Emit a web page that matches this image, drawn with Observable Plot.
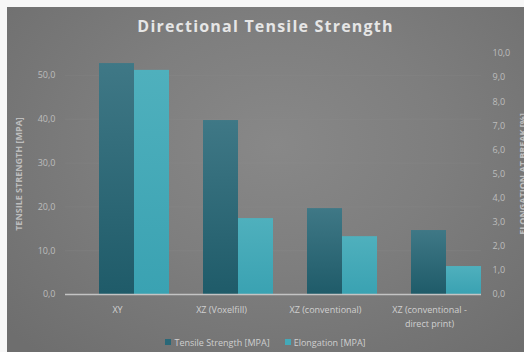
<!DOCTYPE html>
<html>
<head>
<meta charset="utf-8">
<script src="https://cdn.jsdelivr.net/npm/d3@7"></script>
<script src="https://cdn.jsdelivr.net/npm/@observablehq/plot@0.6"></script>
<style>
  html, body { margin: 0; padding: 0; background: #f7f7f7; width: 524px; height: 352px; overflow: hidden; }
  #chart {
    position: absolute; left: 7px; top: 7px; width: 517px; height: 345px; overflow: hidden;
    background: radial-gradient(ellipse 70% 80% at 52% 40%, #888888 0%, #7e7e7e 45%, #6e6e6e 100%);
    font-family: "Open Sans", sans-serif;
  }
  #title {
    height: 36px; line-height: 38px; text-align: center; color: #e6e6e6;
    font-size: 16px; font-weight: 700; letter-spacing: 1.2px;
  }
  #legend {
    height: 18px; display: flex; justify-content: center; align-items: center;
    font-size: 9px; color: #cfcfcf; gap: 15px;
  }
  #legend .item { display: flex; align-items: center; gap: 3px; }
  #legend .sw { width: 6px; height: 6px; display: inline-block; }
  g[aria-label="y-axis label"] text { font-weight: 700; }
</style>
</head>
<body>
<div id="chart">
  <div id="title">Directional Tensile Strength</div>
  <div id="plot"></div>
  <div id="legend"></div>
</div>
<script>
const categories = ["XY", "XZ (Voxelfill)", "XZ (conventional)", "XZ (conventional - direct print)"];
const categoryLabels = ["XY", "XZ (Voxelfill)", "XZ (conventional)", "XZ (conventional -\ndirect print)"];
const seriesNames = ["Tensile Strength [MPA]", "Elongation [MPA]"];
const tensile = [52.7, 39.7, 19.6, 14.6];
const elongation = [9.3, 3.15, 2.4, 1.16];
const leftTicks = [0, 10, 20, 30, 40, 50];
const rightTicks = [0, 1, 2, 3, 4, 5, 6, 7, 8, 9, 10];
const leftMax = 55, rightMax = 10;
const seriesColors = ["#2a6878", "#44a9b8"];

const ratio = leftMax / rightMax;
const rowsT = categories.map((c, i) => ({category: c, series: seriesNames[0], value: tensile[i]}));
const rowsE = categories.map((c, i) => ({category: c, series: seriesNames[1], value: elongation[i]}));
const fmt = v => v.toFixed(1).replace(".", ",");

const plot = Plot.plot({
  width: 517,
  height: 290,
  marginLeft: 58,
  marginRight: 43,
  marginTop: 10,
  marginBottom: 39,
  style: {fontFamily: "Open Sans, sans-serif", fontSize: "9px", color: "#bdbdbd", background: "transparent", overflow: "visible"},
  fx: {domain: categories, padding: 0},
  x: {domain: seriesNames, range: [91, 162.5], padding: 0, axis: null},
  y: {domain: [0, leftMax]},
  marks: [
    Plot.gridY(leftTicks.slice(1), {stroke: "#9a9a9a", strokeOpacity: 0.15}),
    Plot.barY(rowsT, {fx: "category", x: "series", y: "value", fill: "url(#gradT)"}),
    Plot.barY(rowsE, {fx: "category", x: "series", y: d => d.value * ratio, fill: "url(#gradE)"}),
    Plot.ruleY([0], {stroke: "#c4c4c4", strokeWidth: 1.5}),
    Plot.axisY({anchor: "left", ticks: leftTicks, tickFormat: fmt, tickSize: 0, tickPadding: 10,
      fill: "#bdbdbd", label: "TENSILE STRENGTH [MPA]", labelArrow: "none", labelAnchor: "center", labelOffset: 50}),
    Plot.axisY({anchor: "right", ticks: rightTicks.map(v => v * ratio), tickFormat: v => fmt(v / ratio),
      tickSize: 0, tickPadding: 11, fill: "#bdbdbd",
      label: "ELONGATION AT BREAK [%]", labelArrow: "none", labelAnchor: "center", labelOffset: 44}),
    Plot.axisFx({anchor: "bottom", tickSize: 0, tickPadding: 9, label: null, fill: "#d0d0d0", lineHeight: 1.5,
      tickFormat: d => categoryLabels[categories.indexOf(d)]})
  ]
});

// gradients for bars
const svg = d3.select(plot);
const defs = svg.insert("defs", ":first-child");
const gT = defs.append("linearGradient").attr("id", "gradT").attr("x1", 0).attr("y1", 0).attr("x2", 0).attr("y2", 1);
gT.append("stop").attr("offset", "0%").attr("stop-color", "#3f7886");
gT.append("stop").attr("offset", "100%").attr("stop-color", "#1f5b69");
const gE = defs.append("linearGradient").attr("id", "gradE").attr("x1", 0).attr("y1", 0).attr("x2", 0).attr("y2", 1);
gE.append("stop").attr("offset", "0%").attr("stop-color", "#4fb0bd");
gE.append("stop").attr("offset", "100%").attr("stop-color", "#3aa2b2");

document.getElementById("plot").appendChild(plot);

const legend = d3.select("#legend");
seriesNames.forEach((s, i) => {
  const item = legend.append("div").attr("class", "item");
  item.append("span").attr("class", "sw").style("background", seriesColors[i]);
  item.append("span").text(s);
});
</script>
</body>
</html>
